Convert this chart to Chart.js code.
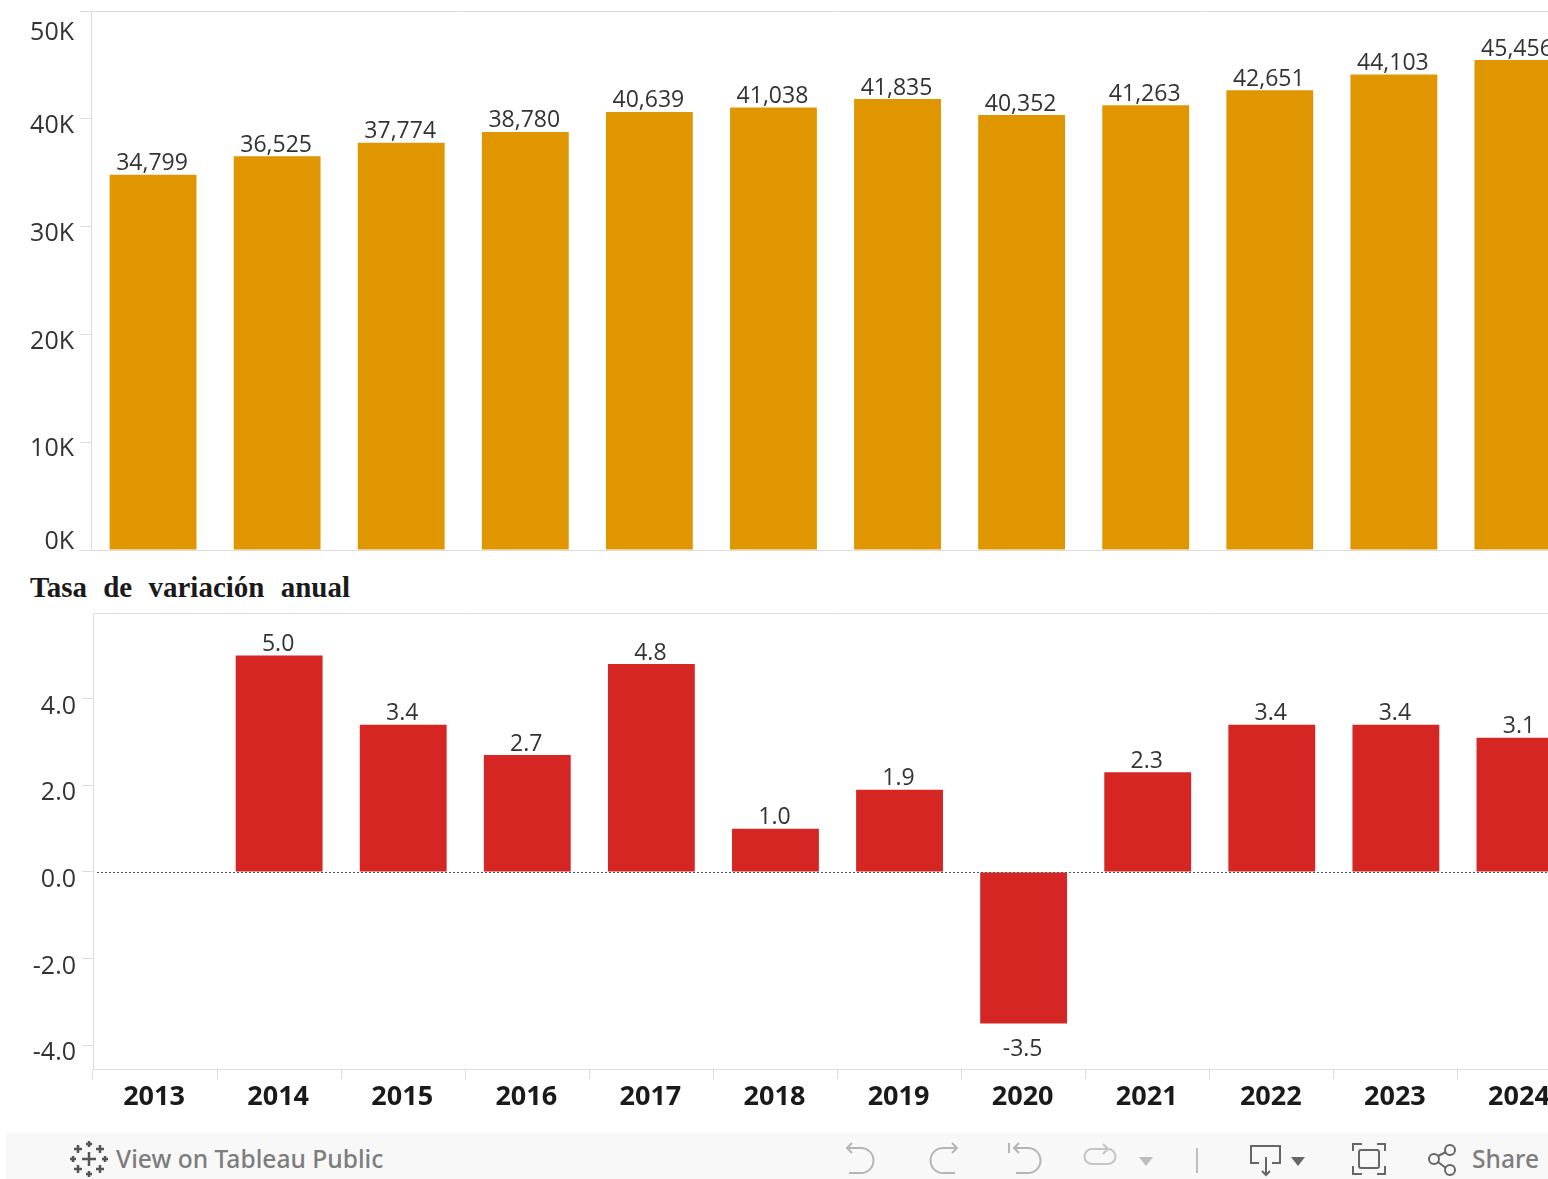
<!DOCTYPE html>
<html>
<head>
<meta charset="utf-8">
<title>Tasa de variación anual</title>
<script src="https://cdn.jsdelivr.net/npm/chart.js@4"></script>
<style>
  html, body { margin: 0; padding: 0; background: #fff; overflow: hidden; }
  body { position: relative; width: 1548px; height: 1179px; }
  canvas { position: absolute; left: 0; }
  #topChart { top: 0; }
  #rateChart { top: 600px; }
  #rateTitle {
    position: absolute; left: 30px; top: 571px;
    font: bold 29px "Liberation Serif", serif; color: #1a1a1a;
    word-spacing: 9px; white-space: nowrap;
  }
  #toolbar { position: absolute; left: 6px; top: 1133px; width: 1542px; height: 46px; background: #f8f8f8; }
  #toolbar span { position: absolute; top: 9px; font: 500 24.6px "Noto Sans", sans-serif; color: #7d7d7d; white-space: nowrap; }
  #toolbar svg { position: absolute; left: 0; top: 0; }
</style>
</head>
<body>
<canvas id="topChart" width="1600" height="560"></canvas>
<div id="rateTitle">Tasa de variación anual</div>
<canvas id="rateChart" width="1600" height="530"></canvas>
<div id="toolbar">
  <svg width="1542" height="46" fill="none" stroke="#8c8c8c" stroke-width="2">
    <g stroke="#555" stroke-width="2.5">
      <path d="M83 19v14M76 26h14M83 8v6M80 11h6M83 38v6M80 41h6M67 23v6M64 26h6M99 23v6M96 26h6"/>
      <path d="M72 12v8M68 16h8M94 12v8M90 16h8M72 32v8M68 36h8M94 32v8M90 36h8"/>
    </g>
    <path d="M841 15h14a11 11 0 0 1 0 25h-12M846 10l-5 5 5 5" stroke="#b5b5b5"/>
    <path d="M951 15h-14a11 11 0 0 0 0 25h12M946 10l5 5-5 5" stroke="#b5b5b5"/>
    <path d="M1003 10v10M1008 15h14a11 11 0 0 1 0 25h-12M1013 10l-5 5 5 5" stroke="#b5b5b5"/>
    <path d="M1102 16h-16a7 7 0 0 0 0 15h16a7 7 0 0 0 0-15M1097 11l5 5-5 5" stroke="#c4c4c4"/>
    <path d="M1133 24h14l-7 9z" fill="#bdbdbd" stroke="none"/>
    <path d="M1191 15v25" stroke="#bdbdbd"/>
    <path d="M1253 30h-8v-17h29v17h-8M1260 24v18M1256 38l4 4 4-4" stroke="#666"/>
    <path d="M1285 24h14l-7 9z" fill="#666" stroke="none"/>
    <path d="M1347 18v-7h9M1371 11h8v7M1379 33v8h-8M1356 41h-9v-8" stroke="#666"/>
    <rect x="1353" y="17" width="20" height="18" rx="2" stroke="#666"/>
    <g stroke="#666"><circle cx="1428" cy="26" r="5"/><circle cx="1444" cy="17" r="5"/><circle cx="1444" cy="37" r="5"/><path d="M1432 23l8-4M1432 29l8 6"/></g>
  </svg>
  <span style="left:110px">View on Tableau Public</span>
  <span style="left:1466px;">Share</span>
</div>
<script>
const years = ["2013","2014","2015","2016","2017","2018","2019","2020","2021","2022","2023","2024"];
const incomeValues = [34799,36525,37774,38780,40639,41038,41835,40352,41263,42651,44103,45456];
const rateValues = [null,5.0,3.4,2.7,4.8,1.0,1.9,-3.5,2.3,3.4,3.4,3.1];
const incomeTicks = [0,10000,20000,30000,40000,50000];
const rateTicks = [-4,-2,0,2,4];

const orange = "#e09600";
const red = "#d52624";
const axisGray = "#dcdcdc";
const textDark = "#333333";
const labelFont = '23px "Open Sans", sans-serif';
const tickFont = { family: '"Open Sans", sans-serif', size: 25 };

// value labels over the bars, and the small shifts on the axis labels
const barLabels = {
  id: "barLabels",
  beforeDraw(chart, args, opts) {
    chart.scales.y.getLabelItems().forEach(function(item, i) {
      if (item.moved) return;
      item.options.translation[1] += opts.nudgeY(chart.scales.y.ticks[i].value);
      item.moved = true;
    });
    chart.scales.x.getLabelItems().forEach(function(item) {
      if (item.moved) return;
      item.options.translation[0] -= 1;
      item.moved = true;
    });
  },
  afterDatasetsDraw(chart, args, opts) {
    const ctx = chart.ctx;
    const values = chart.data.datasets[0].data;
    ctx.save();
    // line along the top of the plot
    ctx.strokeStyle = axisGray;
    ctx.lineWidth = 1;
    ctx.beginPath();
    ctx.moveTo(chart.chartArea.left, chart.chartArea.top + 0.5);
    ctx.lineTo(chart.chartArea.right, chart.chartArea.top + 0.5);
    ctx.stroke();
    if (opts.zeroLine) {
      const zero = Math.round(chart.scales.y.getPixelForValue(0)) + 0.5;
      ctx.strokeStyle = "#555555";
      ctx.setLineDash([2, 2]);
      ctx.beginPath();
      ctx.moveTo(chart.chartArea.left + 4, zero);
      ctx.lineTo(chart.chartArea.right, zero);
      ctx.stroke();
      ctx.setLineDash([]);
    }
    ctx.fillStyle = textDark;
    ctx.font = labelFont;
    ctx.textAlign = "center";
    ctx.textBaseline = "middle";
    chart.getDatasetMeta(0).data.forEach(function(bar, i) {
      if (values[i] === null) return;
      const y = values[i] < 0 ? bar.y + 26 : bar.y - 11;
      ctx.fillText(opts.format(values[i]), bar.x - 1, y);
    });
    ctx.restore();
  }
};

// stop the axes from adding room for half a label
function noLabelRoom(axis) {
  axis.paddingTop = 0;
  axis.paddingBottom = 0;
  axis.paddingLeft = 0;
  axis.paddingRight = 0;
}

new Chart(document.getElementById("topChart"), {
  type: "bar",
  plugins: [barLabels],
  data: {
    labels: years,
    datasets: [{ data: incomeValues, backgroundColor: orange, barPercentage: 0.7, categoryPercentage: 1 }]
  },
  options: {
    responsive: false,
    animation: false,
    layout: { padding: { top: 11, right: 20, bottom: 10 } },
    plugins: {
      legend: { display: false },
      tooltip: { enabled: false },
      barLabels: {
        format: v => v.toLocaleString("en-US"),
        nudgeY: v => v === 50000 ? 22 : (v === 0 ? -8 : 7)
      }
    },
    scales: {
      x: {
        afterFit: axis => { axis.height = 0; noLabelRoom(axis); },
        ticks: { display: false },
        grid: { display: false },
        border: { color: axisGray }
      },
      y: {
        min: 0,
        max: 50000,
        afterBuildTicks: axis => { axis.ticks = incomeTicks.map(v => ({ value: v })); },
        afterFit: axis => { axis.width = 91; noLabelRoom(axis); },
        ticks: {
          callback: v => (v / 1000) + "K",
          font: tickFont,
          color: textDark,
          padding: 6
        },
        grid: { drawOnChartArea: false, color: axisGray, tickLength: 11 },
        border: { color: axisGray }
      }
    }
  }
});

new Chart(document.getElementById("rateChart"), {
  type: "bar",
  plugins: [barLabels],
  data: {
    labels: years,
    datasets: [{ data: rateValues, backgroundColor: red, barPercentage: 0.7, categoryPercentage: 1 }]
  },
  options: {
    responsive: false,
    animation: false,
    layout: { padding: { top: 13, right: 18 } },
    plugins: {
      legend: { display: false },
      tooltip: { enabled: false },
      barLabels: {
        zeroLine: true,
        format: v => v.toFixed(1),
        nudgeY: () => 8
      }
    },
    scales: {
      x: {
        afterFit: axis => { axis.height = 61; noLabelRoom(axis); },
        ticks: {
          font: { family: '"Open Sans", sans-serif', size: 27, weight: "bold" },
          color: "#1a1a1a",
          maxRotation: 0,
          autoSkip: false,
          padding: 2
        },
        grid: { drawOnChartArea: false, offset: true, color: axisGray, tickLength: 10 },
        border: { color: axisGray }
      },
      y: {
        min: -4.55,
        max: 5.98,
        afterBuildTicks: axis => { axis.ticks = rateTicks.map(v => ({ value: v })); },
        afterFit: axis => { axis.width = 93; noLabelRoom(axis); },
        ticks: {
          callback: v => v.toFixed(1),
          font: tickFont,
          color: textDark,
          padding: 6
        },
        grid: { drawOnChartArea: false, color: axisGray, tickLength: 11 },
        border: { color: axisGray }
      }
    }
  }
});
</script>
</body>
</html>
